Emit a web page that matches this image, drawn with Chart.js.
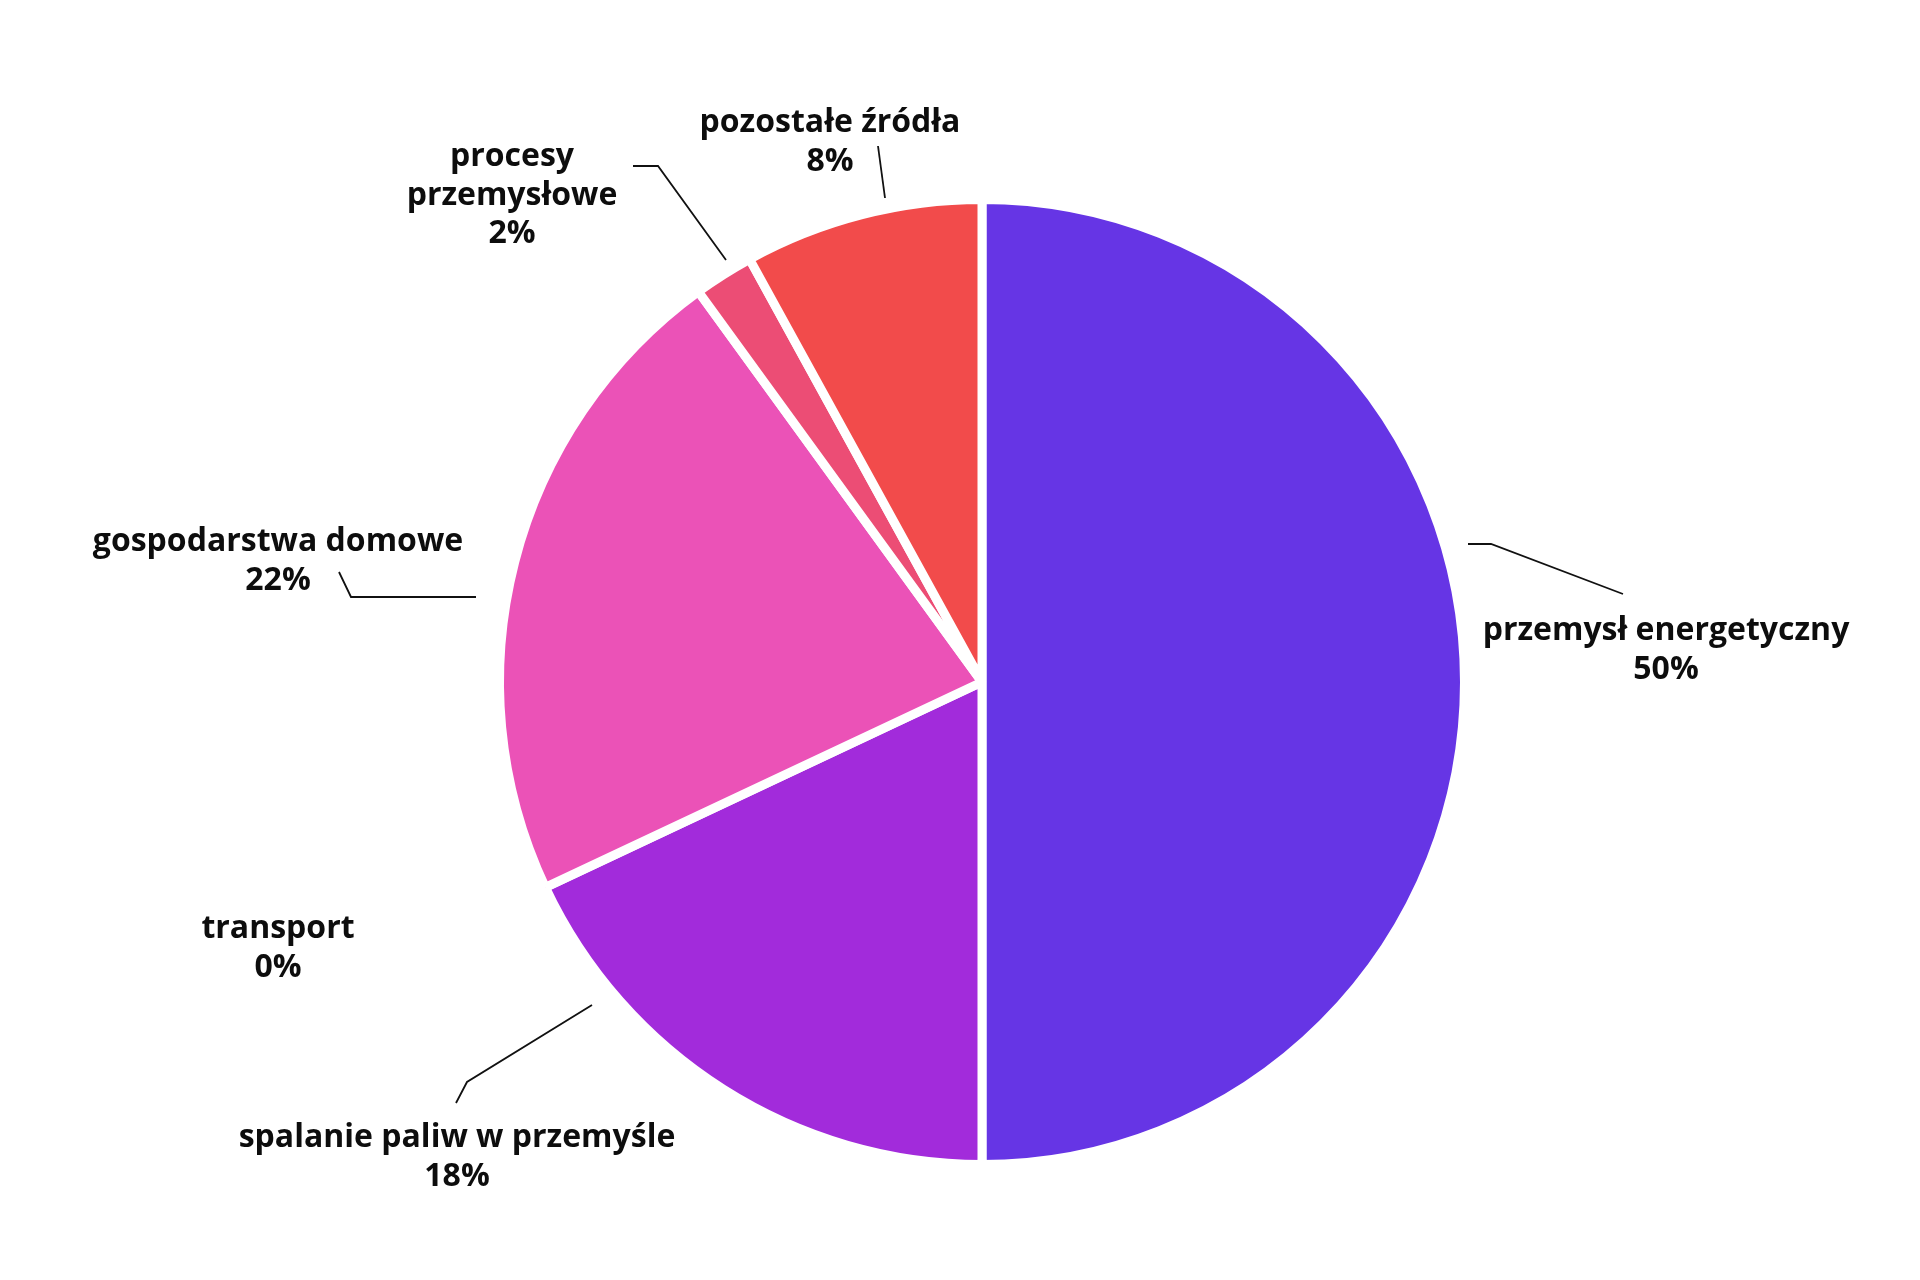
<!DOCTYPE html>
<html lang="pl">
<head>
  <meta charset="UTF-8">
  <title>Źródła emisji</title>
  <script src="https://cdn.jsdelivr.net/npm/chart.js"></script>
  <style>
    html, body { margin: 0; padding: 0; background: #fff; }
    #wrap { width: 1920px; height: 1280px; position: relative; }
  </style>
</head>
<body>
  <div id="wrap"><canvas id="pieChart"></canvas></div>

  <script>
    // data
    const categories = ['przemysł energetyczny', 'spalanie paliw w przemyśle', 'transport',
                        'gospodarstwa domowe', 'procesy przemysłowe', 'pozostałe źródła'];
    const shares = [50, 18, 0, 22, 2, 8];
    const sliceColors = ['#6635E5', '#A22BDB', '#C93AC9', '#EB52B7', '#EC4D75', '#F24B4B'];

    // label layout: text lines split, anchor offsets from pie centre (px), leader polylines
    const labelLayout = [
      { lines: ['przemysł energetyczny'], dx: 684, dy: -42, leader: [[486, -138], [509, -138], [641, -88]] },
      { lines: ['spalanie paliw w przemyśle'], dx: -525, dy: 465, leader: [[-390, 323], [-515, 400], [-526, 421]] },
      { lines: ['transport'], dx: -704, dy: 256, leader: null },
      { lines: ['gospodarstwa domowe'], dx: -704, dy: -131, leader: [[-643, -110], [-631, -85], [-506, -85]] },
      { lines: ['procesy', 'przemysłowe'], dx: -470, dy: -516, leader: [[-349, -516], [-324, -516], [-256, -422]] },
      { lines: ['pozostałe źródła'], dx: -152, dy: -550, leader: [[-104, -536], [-97, -484]] }
    ];

    const pieLabels = {
      id: 'pieLabels',
      afterDraw(chart) {
        const ctx = chart.ctx;
        const arc = chart.getDatasetMeta(0).data[0];
        const cx = arc.x, cy = arc.y;
        ctx.save();
        ctx.strokeStyle = '#111';
        ctx.lineWidth = 1.8;
        ctx.fillStyle = '#0d0d0d';
        ctx.font = 'bold 32px "Open Sans"';
        ctx.textAlign = 'center';
        ctx.textBaseline = 'alphabetic';
        labelLayout.forEach((lab, i) => {
          if (lab.leader) {
            ctx.beginPath();
            lab.leader.forEach((p, j) => {
              if (j === 0) ctx.moveTo(cx + p[0], cy + p[1]);
              else ctx.lineTo(cx + p[0], cy + p[1]);
            });
            ctx.stroke();
          }
          const lines = lab.lines.concat([shares[i] + '%']);
          lines.forEach((t, k) => {
            ctx.fillText(t, cx + lab.dx, cy + lab.dy + k * 38.5);
          });
        });
        ctx.restore();
      }
    };

    new Chart(document.getElementById('pieChart'), {
      type: 'pie',
      data: {
        labels: categories,
        datasets: [{
          data: shares,
          backgroundColor: sliceColors,
          borderColor: '#ffffff',
          borderWidth: 9
        }]
      },
      options: {
        responsive: true,
        maintainAspectRatio: false,
        animation: false,
        layout: { padding: { left: 44, right: 0, top: 195, bottom: 111 } },
        plugins: {
          legend: { display: false },
          tooltip: { enabled: false }
        }
      },
      plugins: [pieLabels]
    });
  </script>
</body>
</html>
